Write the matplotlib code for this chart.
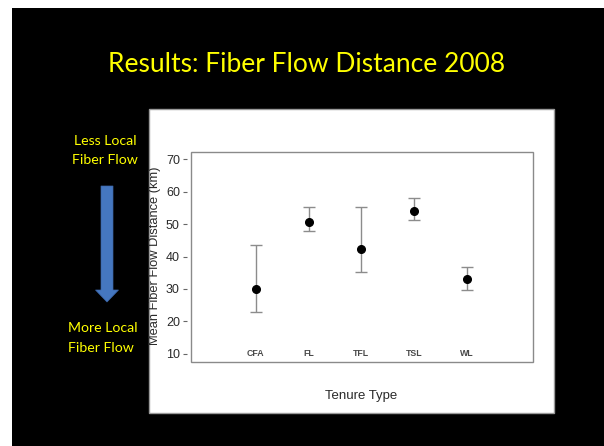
import matplotlib.pyplot as plt
from matplotlib.patches import Rectangle, FancyArrow

# data
categories = ['CFA', 'FL', 'TFL', 'TSL', 'WL']
means = [30.0, 50.6, 42.3, 54.1, 33.2]
upper = [43.6, 55.2, 55.2, 58.1, 36.9]
lower = [22.8, 47.9, 35.1, 51.3, 29.7]
yticks = [10, 20, 30, 40, 50, 60, 70]

W, H = 604, 446
fig = plt.figure(figsize=(W / 100, H / 100), dpi=100, facecolor='white')

def px(x0, y0, x1, y1):
    # pixel box (top-left origin) -> figure fraction rect
    return [x0 / W, 1 - y1 / H, (x1 - x0) / W, (y1 - y0) / H]

# slide background and white chart panel
r = px(12, 8, 604, 446)
fig.patches.append(Rectangle((r[0], r[1]), r[2], r[3], transform=fig.transFigure,
                             facecolor='black', edgecolor='none', zorder=-3))
r = px(149, 109, 554, 413)
fig.patches.append(Rectangle((r[0], r[1]), r[2], r[3], transform=fig.transFigure,
                             facecolor='white', edgecolor='#9a9a9a', lw=1, zorder=-2))

slide_font = 'Lato'
fig.text(307 / W, 1 - 65 / H, 'Results: Fiber Flow Distance 2008', color='#ffff00',
         fontsize=19, family=slide_font, ha='center', va='center')
fig.text(105 / W, 1 - 150 / H, 'Less Local\nFiber Flow', color='#ffff00',
         fontsize=10.2, family=slide_font, ha='center', va='center', linespacing=1.7)
fig.text(68 / W, 1 - 338 / H, 'More Local\nFiber Flow', color='#ffff00',
         fontsize=10.2, family=slide_font, ha='left', va='center', linespacing=1.7)

# blue arrow
arr = FancyArrow(107 / W, 1 - 186 / H, 0, -(116 / H), width=12 / W,
                 head_width=23 / W, head_length=12 / H, length_includes_head=True,
                 transform=fig.transFigure, facecolor='#4577c0', edgecolor='#3a64a6',
                 lw=0.5, zorder=-1)
fig.patches.append(arr)

ax = fig.add_axes(px(191, 152, 533, 362))
ax.set_facecolor('white')
x = list(range(1, len(categories) + 1))
yerr = [[m - l for m, l in zip(means, lower)], [u - m for u, m in zip(upper, means)]]
ax.errorbar(x, means, yerr=yerr, fmt='o', color='black', ms=5.5,
            ecolor='#8c8c8c', elinewidth=1, capsize=4, capthick=1)

ax.set_xlim(-0.23, 6.26)
ax.set_ylim(7.5, 72.2)
ax.set_yticks(yticks)
ax.set_xticks([])
for xi, lab in zip(x, categories):
    ax.text(xi, yticks[0], lab, ha='center', va='center', fontsize=6.3,
            color='#4a4a4a', family='Liberation Sans', fontweight='bold')

for s in ax.spines.values():
    s.set_visible(False)
ax.spines['left'].set_position(('outward', 3))
ax.add_patch(Rectangle((0, 0), 1, 1, transform=ax.transAxes, fill=False,
                       edgecolor='#8a8a8a', lw=1, clip_on=False))
ax.tick_params(axis='y', direction='out', length=3, width=0.8, color='#666666',
               labelsize=9, labelcolor='#2a2a2a', pad=2)
for t in ax.get_yticklabels():
    t.set_family('Liberation Sans')

ax.set_ylabel('Mean Fiber Flow Distance (km)', fontsize=9.3, family='Liberation Sans',
              color='#2a2a2a', va='center')
ax.yaxis.set_label_coords(-0.104, 0.507)
ax.set_xlabel('Tenure Type', fontsize=9.5, family='Liberation Sans', color='#2a2a2a',
              va='center')
ax.xaxis.set_label_coords(0.497, -0.162)

fig.savefig('out.png', dpi=100, facecolor=fig.get_facecolor())
